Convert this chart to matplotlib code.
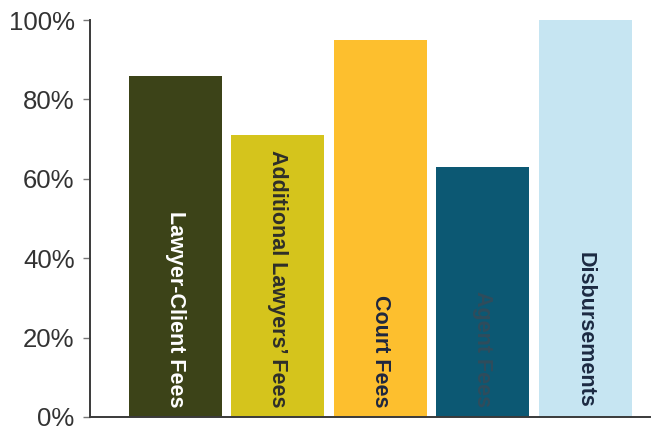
import matplotlib.pyplot as plt
from matplotlib.ticker import FuncFormatter

# data
categories = ["Lawyer-Client Fees", "Additional Lawyers\u2019 Fees", "Court Fees",
              "Agent Fees", "Disbursements"]
values = [86, 71, 95, 63, 100]
bar_colors = ["#3c4318", "#d5c41c", "#fdbf2e", "#0c5873", "#c6e5f2"]
text_colors = ["#ffffff", "#2e2e2a", "#1e2740", "#2f4c5c", "#1c2a42"]
yticks = [0, 20, 40, 60, 80, 100]

plt.rcParams['font.family'] = ['Liberation Sans', 'DejaVu Sans']

fig = plt.figure(figsize=(6.54, 4.29), dpi=100)
ax = fig.add_axes([90 / 654, 1 - 417 / 429, 560 / 654, 397 / 429])

x = list(range(len(categories)))
ax.bar(x, values, width=0.905, color=bar_colors, zorder=2)

# vertical labels inside bars, reading top to bottom, anchored near the bottom
for xi, label, tc in zip(x, categories, text_colors):
    ax.text(xi, 2.4, label, rotation=-90, rotation_mode='anchor',
            ha='right', va='center', color=tc, fontsize=15.5,
            fontweight='bold', zorder=3)

ax.set_xlim(-0.83, 4.63)
ax.set_ylim(0, 100)
ax.set_yticks(yticks)
ax.yaxis.set_major_formatter(FuncFormatter(lambda v, p: f"{int(v)}%"))
ax.set_xticks([])

for s in ['top', 'right']:
    ax.spines[s].set_visible(False)
ax.spines['left'].set_color('#3a3a3a')
ax.spines['bottom'].set_color('#3a3a3a')
ax.spines['left'].set_linewidth(1.4)
ax.spines['bottom'].set_linewidth(1.4)
ax.tick_params(axis='y', direction='out', length=5, width=1.0,
               color='#777777', labelsize=18.5, labelcolor='#333333', pad=6)

fig.savefig("out.png", dpi=100)
